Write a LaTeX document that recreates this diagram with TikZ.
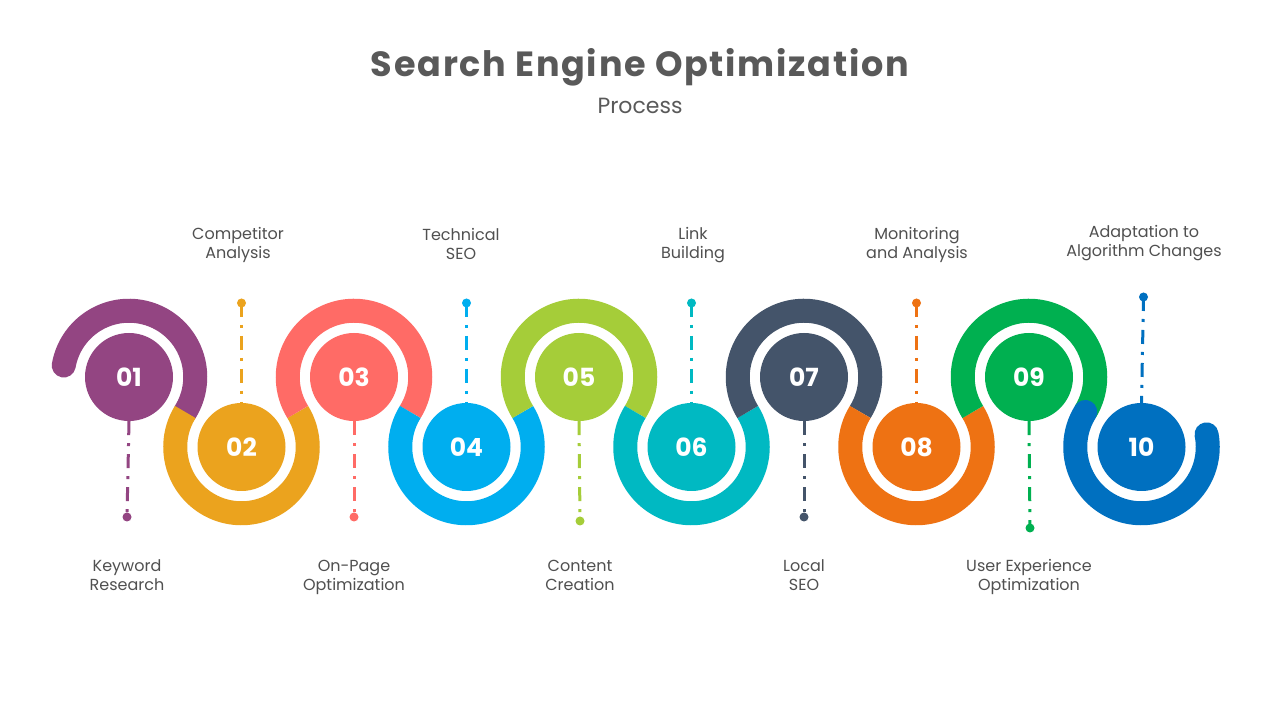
\documentclass[tikz,border=0pt]{standalone}
\usepackage{fontspec}
\setmainfont{Poppins}
\definecolor{c1}{HTML}{934582}
\definecolor{c2}{HTML}{EBA31E}
\definecolor{c3}{HTML}{FF6B66}
\definecolor{c4}{HTML}{00AEEF}
\definecolor{c5}{HTML}{A5CD39}
\definecolor{c6}{HTML}{00B9C2}
\definecolor{c7}{HTML}{44546A}
\definecolor{c8}{HTML}{EE7213}
\definecolor{c9}{HTML}{00B050}
\definecolor{c10}{HTML}{0070C0}
\definecolor{titlegray}{HTML}{595959}
\definecolor{labelgray}{HTML}{505050}
\begin{document}
\begin{tikzpicture}[x=1pt,y=1pt,
  ring/.style={line width=24pt},
  inner/.style={circle, minimum size=88pt, inner sep=0pt, text=white,
    font=\fontsize{25}{25}\selectfont\bfseries},
  dotnode/.style={circle, minimum size=9pt, inner sep=0pt},
  dashline/.style={line width=3pt, dash pattern=on 14pt off 8pt on 3pt off 8pt},
  label/.style={align=center, text=labelgray, font=\fontsize{16}{19}\selectfont}]
\fill[white] (0,0) rectangle (1280,720);
\useasboundingbox (0,0) rectangle (1280,720);

\node[text=titlegray, font=\fontsize{35}{35}\selectfont\bfseries\addfontfeatures{LetterSpace=5}] (title) at (640,653) {Search Engine Optimization};
\node[text=titlegray, font=\fontsize{22}{22}\selectfont] (sub) at (640,614) {Process};

% centres
\coordinate (p1) at (129,343);
\coordinate (p2) at (241.5,273);
\coordinate (p3) at (354,343);
\coordinate (p4) at (466.5,273);
\coordinate (p5) at (579,343);
\coordinate (p6) at (691.5,273);
\coordinate (p7) at (804,343);
\coordinate (p8) at (916.5,273);
\coordinate (p9) at (1029,343);
\coordinate (p10) at (1141.5,273);

% rings
\draw[ring, c1, line cap=round] (p1) ++(170:66.25) arc[start angle=170, end angle=-31.9, radius=66.25];
\draw[ring, c2] (p2) ++(148.1:66.25) arc[start angle=148.1, end angle=391.9, radius=66.25];
\draw[ring, c3] (p3) ++(211.9:66.25) arc[start angle=211.9, end angle=-31.9, radius=66.25];
\draw[ring, c4] (p4) ++(148.1:66.25) arc[start angle=148.1, end angle=391.9, radius=66.25];
\draw[ring, c5] (p5) ++(211.9:66.25) arc[start angle=211.9, end angle=-31.9, radius=66.25];
\draw[ring, c6] (p6) ++(148.1:66.25) arc[start angle=148.1, end angle=391.9, radius=66.25];
\draw[ring, c7] (p7) ++(211.9:66.25) arc[start angle=211.9, end angle=-31.9, radius=66.25];
\draw[ring, c8] (p8) ++(148.1:66.25) arc[start angle=148.1, end angle=391.9, radius=66.25];
\draw[ring, c9] (p9) ++(211.9:66.25) arc[start angle=211.9, end angle=-31.9, radius=66.25];
\draw[ring, c10, line cap=round] (p10) ++(148.1:66.25) arc[start angle=148.1, end angle=371, radius=66.25];

% inner circles
\node[inner, fill=c1] (n1) at (p1) {01};
\node[inner, fill=c2] (n2) at (p2) {02};
\node[inner, fill=c3] (n3) at (p3) {03};
\node[inner, fill=c4] (n4) at (p4) {04};
\node[inner, fill=c5] (n5) at (p5) {05};
\node[inner, fill=c6] (n6) at (p6) {06};
\node[inner, fill=c7] (n7) at (p7) {07};
\node[inner, fill=c8] (n8) at (p8) {08};
\node[inner, fill=c9] (n9) at (p9) {09};
\node[inner, fill=c10] (n10) at (p10) {10};

% dots
\node[dotnode, fill=c1] (d1) at (127,203) {};
\node[dotnode, fill=c2] (d2) at (241.5,417) {};
\node[dotnode, fill=c3] (d3) at (354,203) {};
\node[dotnode, fill=c4] (d4) at (466.5,417) {};
\node[dotnode, fill=c5] (d5) at (580,199) {};
\node[dotnode, fill=c6] (d6) at (691.5,417) {};
\node[dotnode, fill=c7] (d7) at (804,203) {};
\node[dotnode, fill=c8] (d8) at (916.5,417) {};
\node[dotnode, fill=c9] (d9) at (1030,192) {};
\node[dotnode, fill=c10] (d10) at (1143.5,423) {};

% dashed connectors
\draw[dashline, c1] (n1.south) -- (d1.center);
\draw[dashline, c2] (d2.center) -- (n2.north);
\draw[dashline, c3] (n3.south) -- (d3.center);
\draw[dashline, c4] (d4.center) -- (n4.north);
\draw[dashline, c5] (n5.south) -- (d5.center);
\draw[dashline, c6] (d6.center) -- (n6.north);
\draw[dashline, c7] (n7.south) -- (d7.center);
\draw[dashline, c8] (d8.center) -- (n8.north);
\draw[dashline, c9] (n9.south) -- (d9.center);
\draw[dashline, c10] (d10.center) -- (n10.north);

% labels
\node[label] (l1) at (127,144.5) {Keyword\\Research};
\node[label] (l2) at (238,475) {Competitor\\Analysis};
\node[label] (l3) at (354,143) {On-Page\\Optimization};
\node[label] (l4) at (461,476.5) {Technical\\SEO};
\node[label] (l5) at (580,144.5) {Content\\Creation};
\node[label] (l6) at (693,475) {Link\\Building};
\node[label] (l7) at (804,144.5) {Local\\SEO};
\node[label] (l8) at (917,475) {Monitoring\\and Analysis};
\node[label] (l9) at (1029,143.5) {User Experience\\Optimization};
\node[label] (l10) at (1144,477) {Adaptation to\\Algorithm Changes};
\end{tikzpicture}
\end{document}
